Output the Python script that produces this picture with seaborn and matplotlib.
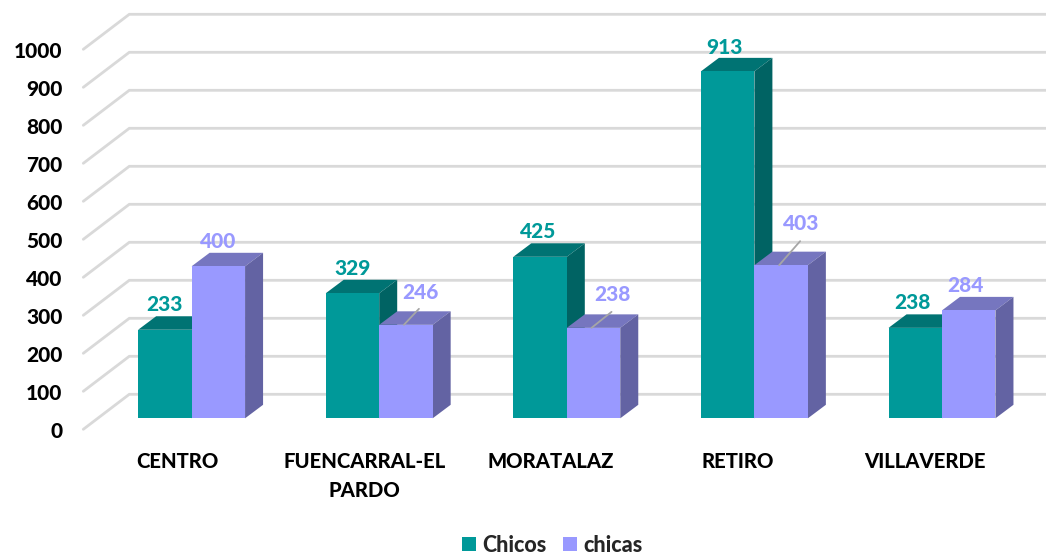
import pandas as pd
import matplotlib.pyplot as plt
import seaborn as sns
from matplotlib.patches import Polygon
from matplotlib.transforms import Affine2D

# ============================================================
# Barras "3D" por distrito
# ============================================================

distritos = ["CENTRO", "FUENCARRAL-EL\nPARDO", "MORATALAZ", "RETIRO", "VILLAVERDE"]
chicos = [233, 329, 425, 913, 238]
chicas = [400, 246, 238, 403, 284]
y_ticks = list(range(0, 1001, 100))

VERDE = "#009999"
MORADO = "#9999FF"
colores = {"Chicos": VERDE, "chicas": MORADO}
techo = {"Chicos": "#007373", "chicas": "#7676BF"}
lado = {"Chicos": "#006363", "chicas": "#6363A3"}

sns.set_style("white")
plt.rcParams["font.family"] = ["Lato", "DejaVu Sans"]
PESO = 900

W, H = 1046, 557
PX_CAT = 187.6   # pixeles por categoria
PX_VAL = 0.38    # pixeles por unidad
LEFT, BASE = 97.8, 418.3

df = pd.DataFrame({
    "distrito": distritos * 2,
    "valor": chicos + chicas,
    "sexo": ["Chicos"] * 5 + ["chicas"] * 5,
})

fig = plt.figure(figsize=(W / 100, H / 100), dpi=100)
ax = fig.add_axes([LEFT / W, (H - BASE) / H, 5 * PX_CAT / W, 1000 * PX_VAL / H])

sns.barplot(data=df, x="distrito", y="valor", hue="sexo", palette=colores,
            width=0.57, gap=0, saturation=1, linewidth=0, ax=ax)
ax.set_xlim(-0.5, 4.5)
ax.set_ylim(0, 1000)
ax.set_xlabel("")
ax.set_ylabel("")
sns.despine(ax=ax, left=True, bottom=True)

# profundidad, en unidades de los datos
dx = 18 / PX_CAT
dy = 13.5 / PX_VAL

# paredes: lineas de la rejilla
wall_x = 46 / PX_CAT
front_x = -0.5 - (LEFT - 83.3) / PX_CAT
front_y = -11 / PX_VAL
back_y = 24 / PX_VAL
for v in y_ticks:
    ax.plot([front_x, front_x + wall_x, 4.5 + 11 / PX_CAT],
            [v + front_y, v + back_y, v + back_y],
            color="#D9D9D9", lw=2, clip_on=False, zorder=1, solid_joinstyle="miter")

# caras superior y lateral de cada barra
for i, (cont, sexo) in enumerate(zip(ax.containers, ["Chicos", "chicas"])):
    z = 2 + 2 * i
    for b in cont:
        x0, x1, h = b.get_x(), b.get_x() + b.get_width(), b.get_height()
        ax.add_patch(Polygon([(x0, h), (x1, h), (x1 + dx, h + dy), (x0 + dx, h + dy)],
                             color=techo[sexo], lw=0, clip_on=False, zorder=z))
        ax.add_patch(Polygon([(x1, 0), (x1 + dx, dy), (x1 + dx, h + dy), (x1, h)],
                             color=lado[sexo], lw=0, clip_on=False, zorder=z))
        b.set_zorder(z + 1)
        b.set_clip_on(False)

# etiquetas de datos: desplazamiento en pixeles respecto al centro de la barra
off_chicos = [(0, 25), (0, 25), (-2, 25), (-3, 24), (-3, 25)]
off_chicas = [(0, 25), (15, 32), (19, 33), (20, 42), (-3, 25)]
lineas = {(1, 1): (15, 16), (1, 2): (20, 16), (1, 3): (21, 24)}

for i, (cont, offs, sexo) in enumerate(zip(ax.containers, [off_chicos, off_chicas], colores)):
    for j, (b, off) in enumerate(zip(cont, offs)):
        xc, h = b.get_x() + b.get_width() / 2, b.get_height()
        ax.annotate(f"{h:.0f}", (xc, h), xytext=off, textcoords="offset pixels",
                    ha="center", va="center", color=colores[sexo], fontsize=15,
                    fontweight=PESO, zorder=8, annotation_clip=False)
        if (i, j) in lineas:
            ax.annotate("", (xc - 2 / PX_CAT, h), xytext=lineas[(i, j)], textcoords="offset pixels",
                        arrowprops=dict(arrowstyle="-", color="#A6A6A6", lw=1.3,
                                        shrinkA=0, shrinkB=0), zorder=8)

ax.set_yticks(y_ticks)
ax.tick_params(axis="y", length=0, pad=25.4, labelsize=15, labelcolor="black")
ax.tick_params(axis="x", length=0, pad=24, labelsize=14.6, labelcolor="black")
for lab in ax.get_yticklabels():
    lab.set_fontweight(PESO)
    lab.set_transform(lab.get_transform() + Affine2D().translate(0, -12))
for i, lab in enumerate(ax.get_xticklabels()):
    lab.set_fontweight(PESO)
    lab.set_linespacing(1.63)
    lab.set_transform(lab.get_transform() + Affine2D().translate(-14 - 0.85 * i, 0))

sns.move_legend(ax, "lower center", bbox_to_anchor=(0.4845, -0.384), ncol=2, title=None,
                frameon=False, handlelength=0.65, handleheight=0.65,
                handletextpad=0.28, columnspacing=0.8, borderaxespad=0,
                prop={"size": 15.5, "weight": PESO})
for t in ax.get_legend().get_texts():
    t.set_fontweight(PESO)

plt.savefig("out.png", dpi=100)
